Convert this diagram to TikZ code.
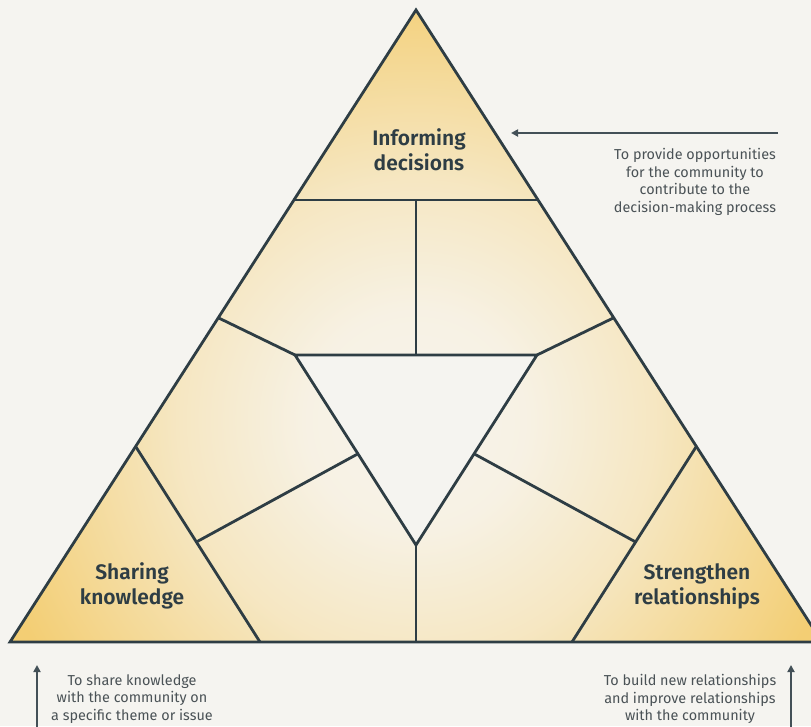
\documentclass[tikz,border=0pt]{standalone}
\usepackage{fontspec}
\setmainfont{Fira Sans}[BoldFont={Fira Sans SemiBold}]
\usetikzlibrary{arrows.meta,calc}

\definecolor{paper}{HTML}{F5F4F0}
\definecolor{ink}{HTML}{2E3D44}
\definecolor{gold}{HTML}{F3CE74}
\definecolor{cream}{HTML}{F7F4EC}
\definecolor{note}{HTML}{4A5256}
\colorlet{glowA}{cream!93!gold}
\colorlet{glowB}{cream!65!gold}
\colorlet{glowC}{cream!30!gold}

% warm glow: pale in the middle, golden towards the three corners
% (radius of the shaded circle corresponds to 25bp)
\pgfdeclareradialshading{glow}{\pgfpoint{0bp}{0bp}}{%
  color(0bp)=(cream); color(6bp)=(glowA); color(13bp)=(glowB);
  color(19bp)=(glowC); color(24bp)=(gold); color(50bp)=(gold)}

\tikzset{
  edge/.style={draw=ink, line width=2.8pt, line join=miter},
  pointer/.style={draw=ink!90, line width=2pt, -{Triangle[length=7pt,width=7pt]}},
  title/.style={align=center, text=ink, font=\fontsize{21}{25}\selectfont\bfseries},
  caption/.style={align=center, text=note, font=\fontsize{14.4}{17.8}\selectfont},
}

\begin{document}
\begin{tikzpicture}[x=1pt, y=-1pt]
  \useasboundingbox (0,0) rectangle (811,726);
  \fill[paper] (0,0) rectangle (811,726);
  \clip (0,0) rectangle (811,726);

  % outer triangle
  \coordinate (A) at (416,10);
  \coordinate (L) at (10,642);
  \coordinate (R) at (822,642);
  % corner triangles
  \coordinate (TL) at (294,200);
  \coordinate (TR) at (538,200);
  \coordinate (TM) at (416,200);
  \coordinate (LT) at (136,447);
  \coordinate (LB) at (260,642);
  \coordinate (RT) at (696,447);
  \coordinate (RB) at (572,642);
  % inner inverted triangle
  \coordinate (I1) at (295,355);
  \coordinate (I2) at (537,355);
  \coordinate (I3) at (416,545);
  \coordinate (IM) at (416,355);
  \coordinate (BM) at (416,642);
  % spokes
  \coordinate (P1) at ($(A)!0.487!(L)$);
  \coordinate (P2) at ($(A)!0.487!(R)$);
  \coordinate (Q1) at ($(I1)!0.52!(I3)$);
  \coordinate (Q2) at ($(I2)!0.52!(I3)$);
  \coordinate (S1) at ($(LT)!0.487!(LB)$);
  \coordinate (S2) at ($(RT)!0.487!(RB)$);

  % golden fill
  \begin{scope}
    \clip (A) -- (L) -- (R) -- cycle;
    \shade[shading=glow] (416,420) circle (460);
  \end{scope}
  \fill[paper] (I1) -- (I2) -- (I3) -- cycle;

  % partition lines
  \draw[edge] (TL) -- (TR);
  \draw[edge] (LT) -- (LB);
  \draw[edge] (RT) -- (RB);
  \draw[edge] (I1) -- (I2) -- (I3) -- cycle;
  \draw[edge] (TM) -- (IM);
  \draw[edge] (I3) -- (BM);
  \draw[edge] (P1) -- (I1);
  \draw[edge] (P2) -- (I2);
  \draw[edge] (Q1) -- (S1);
  \draw[edge] (Q2) -- (S2);
  \draw[edge] (A) -- (L) -- (R) -- cycle;

  % labels
  \node[title] (inform) at (419,150) {Informing\\decisions};
  \node[title] (share) at (132,586) {Sharing\\knowledge};
  \node[title] (strong) at (697,586) {Strengthen\\relationships};

  \node[caption] (informtxt) at (695,182) {To provide opportunities\\for the community to\\contribute to the\\decision-making process};
  \node[caption] (sharetxt) at (132,699) {To share knowledge\\with the community on\\a specific theme or issue};
  \node[caption] (strongtxt) at (690,699) {To build new relationships\\and improve relationships\\with the community};

  % arrows
  \coordinate (ta0) at (778,133);
  \coordinate (ta1) at (511,133);
  \coordinate (la0) at (37,730);
  \coordinate (la1) at (37,665);
  \coordinate (ra0) at (791,730);
  \coordinate (ra1) at (791,665);
  \draw[pointer] (ta0) -- (ta1);
  \draw[pointer] (la0) -- (la1);
  \draw[pointer] (ra0) -- (ra1);
\end{tikzpicture}
\end{document}
